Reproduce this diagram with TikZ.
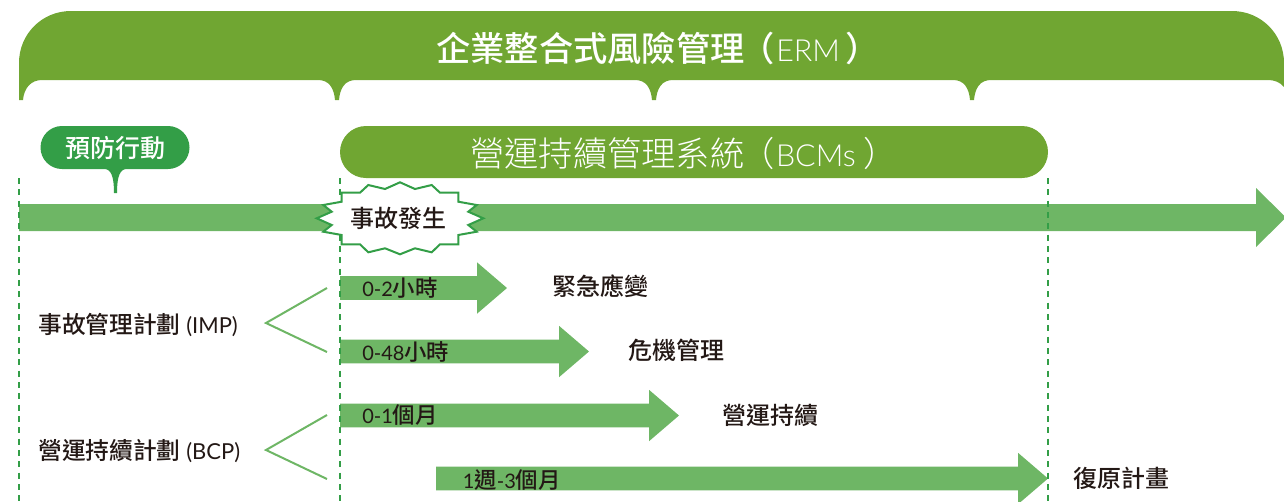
\documentclass[tikz,border=0pt]{standalone}
\usepackage{fontspec}
\setmainfont{Lato}
\newfontfamily\latinthin{Lato Light}
\newfontfamily\cjk{Noto Sans CJK TC Medium}
\newfontfamily\cjkthin{Noto Sans CJK TC Light}
\usetikzlibrary{
	calc,
	positioning
}
\definecolor{ermGreen}{HTML}{70A632}
\definecolor{barGreen}{HTML}{6EB665}
\definecolor{darkGreen}{HTML}{339E47}
\definecolor{inkDark}{HTML}{231815}
\tikzset{
	x=0.75pt,y=-0.75pt,
	bar/.style={fill=barGreen},
	guide/.style={draw=darkGreen,line width=1.6pt,dash pattern=on 4.5pt off 4pt},
	brace/.style={draw=barGreen,line width=1.5pt},
	plan/.style={anchor=west,inner sep=0,text=inkDark,font=\fontsize{16.5}{20}\selectfont},
	phase/.style={anchor=west,inner sep=0,text=inkDark,font=\fontsize{18}{20}\selectfont\cjk},
	span/.style={anchor=west,inner sep=0,text=inkDark,font=\fontsize{15}{20}\selectfont},
	banner/.style={anchor=west,inner sep=0,text=white,font=\fontsize{25.7}{28}\selectfont}
}
\newcommand{\tikzBar}[5][]{\fill[bar] (#2,#4-11.8) -- (#3,#4-11.8) -- (#3,#4-25.7) -- (#3+30,#4) -- (#3,#4+25.7) -- (#3,#4+11.8) -- (#2,#4+11.8) -- cycle;
	\node[span,#1] at (#2+22,#4) {#5};}
\newcommand{\tikzFoot}[1]{-- (#1-19,80) .. controls (#1-8,80) and (#1-3,88) .. (#1-2,100) -- (#1+2,100) .. controls (#1+3,88) and (#1+8,80) .. (#1+19,80)}
\newcommand{\tikzFork}[4]{\coordinate (#1a) at (327,#2);
	\coordinate (#1b) at (266,#3);
	\coordinate (#1c) at (327,#4);
	\draw[brace] (#1a) -- (#1b) -- (#1c);}
\newcommand{\zh}[1]{{\fontsize{16.8}{20}\selectfont\cjk #1}}
\newcommand{\bannerLatin}[1]{{\fontsize{22.8}{28}\selectfont\latinthin #1}}

\begin{document}
\begin{tikzpicture}
	\clip (0,0) rectangle (1284,501);
	
	\fill[ermGreen] (19,100) -- (19,63) .. controls (19,34) and (42,11) .. (71,11) -- (1232,11) .. controls (1261,11) and (1284,34) .. (1284,63) -- (1284,87) .. controls (1280,82) and (1274,80) .. (1268,80)
		\tikzFoot{972} \tikzFoot{654} \tikzFoot{337} -- (42,80) .. controls (31,80) and (24,88) .. (23,100) -- cycle;
	\node[banner] (erm) at (436,48) {{\cjk 企業整合式風險管理\hspace{-3pt}（}\hspace{1pt}\bannerLatin{ERM}\hspace{4.5pt}{\cjk ）}};
	
	\fill[ermGreen] (366,126) -- (1022,126) arc (-90:90:26) -- (366,178) arc (90:270:26) -- cycle;
	\node[banner] (bcms) at (470,153) {{\cjkthin 營運持續管理系統\hspace{-3pt}（}\hspace{1pt}\bannerLatin{BCMs}\hspace{6pt}{\cjkthin ）}};
	
	\fill[darkGreen] (62,126) -- (168,126) arc (-90:90:21.5) -- (127,169) .. controls (120,169) and (117,176) .. (117,193) -- (114,193) .. controls (114,176) and (111,169) .. (104,169) -- (62,169) arc (90:270:21.5) -- cycle;
	\node[inner sep=0,text=white,font=\fontsize{18.75}{20}\selectfont\cjk] (prevent) at (115,148) {預防行動};
	
	\fill[bar] (19,204) -- (1256,204) -- (1256,188) -- (1286,217.5) -- (1256,247) -- (1256,231) -- (19,231) -- cycle;
	
	\tikzBar{340}{477}{288}{0-2\zh{小時}}
	\tikzBar{340}{559}{351.5}{0-48\zh{小時}}
	\tikzBar{340}{649}{415.5}{0-1\zh{個月}}
	\tikzBar[xshift=3.5pt,yshift=-1pt]{436}{1018}{478.5}{1\zh{週}-3\zh{個月}}
	
	\coordinate (gl1) at (19,178);
	\coordinate (gl2) at (19,501);
	\coordinate (gm1) at (340,178);
	\coordinate (gm2) at (340,501);
	\coordinate (gr1) at (1048,178);
	\coordinate (gr2) at (1048,501);
	\draw[guide] (gl1) -- (gl2);
	\draw[guide] (gm1) -- (gm2);
	\draw[guide] (gr1) -- (gr2);
	
	\draw[fill=white,draw=darkGreen,line width=1.5pt,line join=miter] (400,182.3) -- (415,189) -- (431.7,185) -- (440,192.7) -- (458.3,192.7) -- (458.3,201.7) -- (476.7,205) -- (468.3,211.7) -- (483.3,218.3) -- (468.3,225) -- (476.7,231.7) -- (458.3,235) -- (458.3,244.3) -- (440,244.3) -- (431.7,252.3) -- (415,248.3) -- (400,254.3) -- (385,248.3) -- (368.3,252.3) -- (360,244.3) -- (341.7,244.3) -- (341.7,235) -- (323.3,231.7) -- (331.7,225) -- (316.7,218.3) -- (331.7,211.7) -- (323.3,205) -- (341.7,201.7) -- (341.7,192.7) -- (360,192.7) -- (368.3,185) -- (385,189) -- cycle;
	\node[inner sep=0,text=inkDark,font=\fontsize{18}{20}\selectfont\cjk] (incident) at (398.5,218) {事故發生};
	
	\node[phase] (respond) at (552,286) {緊急應變};
	\node[phase] (crisis) at (628,350) {危機管理};
	\node[phase] (continuity) at (722,415) {營運持續};
	\node[phase] (recovery) at (1073,478) {復原計畫};
	
	\node[plan] (imp) at (38,325) {{\fontsize{17.8}{20}\selectfont\cjk 事故管理計劃} (IMP)};
	\node[plan] (bcp) at (38,451) {{\fontsize{17.8}{20}\selectfont\cjk 營運持續計劃} (BCP)};
	
	\tikzFork{f1}{288}{323}{352}
	\tikzFork{f2}{415}{450}{479}
\end{tikzpicture}
\end{document}
